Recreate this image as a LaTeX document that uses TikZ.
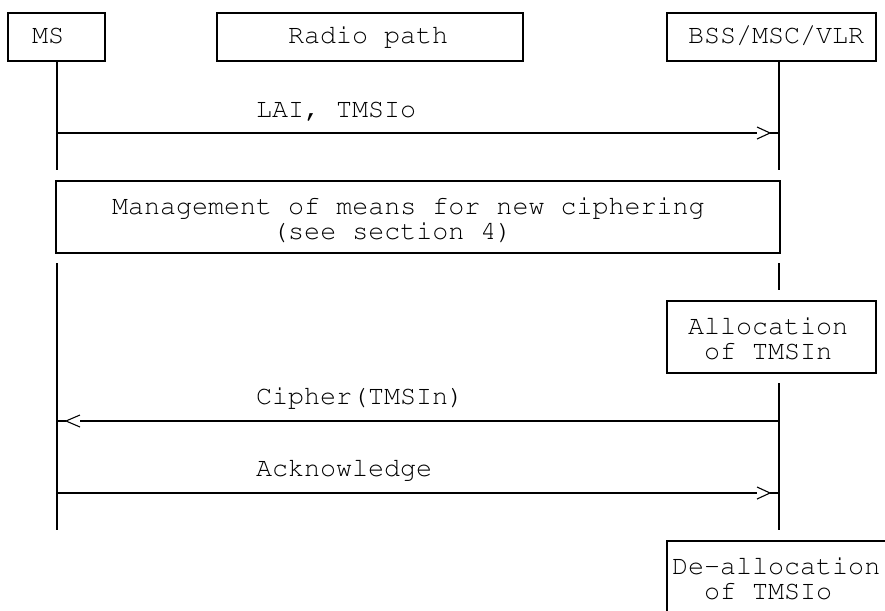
\documentclass[tikz,border=0pt]{standalone}
\usepackage[T1]{fontenc}
\usepackage{courier}
\begin{document}
\begin{tikzpicture}[x=1pt,y=-1pt,
  line width=1.7pt,
  boxline/.style={draw=black,line width=1.7pt},
  life/.style={draw=black,line width=1.7pt},
  msg/.style={draw=black,line width=1.7pt},
  chev/.style={draw=black,line width=1.1pt,line join=miter},
  txt/.style={anchor=base west,inner sep=0pt,outer sep=0pt,align=left,font=\ttfamily\fontsize{26.7}{23}\selectfont}]
\useasboundingbox (0,0) rectangle (885,610);
\fill[white] (0,0) rectangle (885,610);
% header boxes
\draw[boxline] (8,13) rectangle (105,61);
\draw[boxline] (217,13) rectangle (523,61);
\draw[boxline] (667,13) rectangle (876,61);
\node[txt] (ms) at (32,44) {MS};
\node[txt] (radio) at (288,44) {Radio path};
\node[txt] (bss) at (688,44) {BSS/MSC/VLR};
% lifeline coordinates
\coordinate (msA) at (57,61);
\coordinate (msB) at (57,170);
\coordinate (msC) at (57,263);
\coordinate (msD) at (57,530);
\coordinate (bsA) at (779,61);
\coordinate (bsB) at (779,170);
\coordinate (bsC) at (779,263);
\coordinate (bsD) at (779,290);
\coordinate (bsE) at (779,383);
\coordinate (bsF) at (779,530);
\draw[life] (msA) -- (msB);
\draw[life] (msC) -- (msD);
\draw[life] (bsA) -- (bsB);
\draw[life] (bsC) -- (bsD);
\draw[life] (bsE) -- (bsF);
% management box
\draw[boxline] (56,181) rectangle (780,253);
\node[txt,anchor=north west] (mg) at (112,197) {\strut Management of means for new ciphering\\\strut~~~~~~~~~~(see section 4)};
% allocation box
\draw[boxline] (667,301) rectangle (876,373);
\node[txt,anchor=north west] (al) at (688,317) {\strut Allocation\\\strut~of TMSIn};
% de-allocation box (cut by page edge)
\draw[boxline] (667,625) -- (667,541) -- (900,541);
\node[txt,anchor=north west] (de) at (672,557) {\strut De-allocation\\\strut~~of TMSIo};
% message 1: LAI, TMSIo
\coordinate (m1s) at (57,133);
\coordinate (m1b) at (757,133);
\coordinate (m1t) at (770,133);
\coordinate (m1e) at (779,133);
\draw[msg] (m1s) -- (m1b);
\draw[chev] ([shift={(0,-6)}]m1b) -- (m1t) -- ([shift={(0,6)}]m1b);
\draw[msg] (m1t) -- (m1e);
\node[txt] (l1) at (256,117) {LAI, TMSIo};
% message 2: Cipher(TMSIn)
\coordinate (m2s) at (779,421);
\coordinate (m2b) at (80,421);
\coordinate (m2t) at (66,421);
\coordinate (m2e) at (57,421);
\draw[msg] (m2s) -- (m2b);
\draw[chev] ([shift={(0,-6)}]m2b) -- (m2t) -- ([shift={(0,6)}]m2b);
\draw[msg] (m2t) -- (m2e);
\node[txt] (l2) at (256,404) {Cipher(TMSIn)};
% message 3: Acknowledge
\coordinate (m3s) at (57,493);
\coordinate (m3b) at (757,493);
\coordinate (m3t) at (770,493);
\coordinate (m3e) at (779,493);
\draw[msg] (m3s) -- (m3b);
\draw[chev] ([shift={(0,-6)}]m3b) -- (m3t) -- ([shift={(0,6)}]m3b);
\draw[msg] (m3t) -- (m3e);
\node[txt] (l3) at (256,476) {Acknowledge};
\end{tikzpicture}
\end{document}
